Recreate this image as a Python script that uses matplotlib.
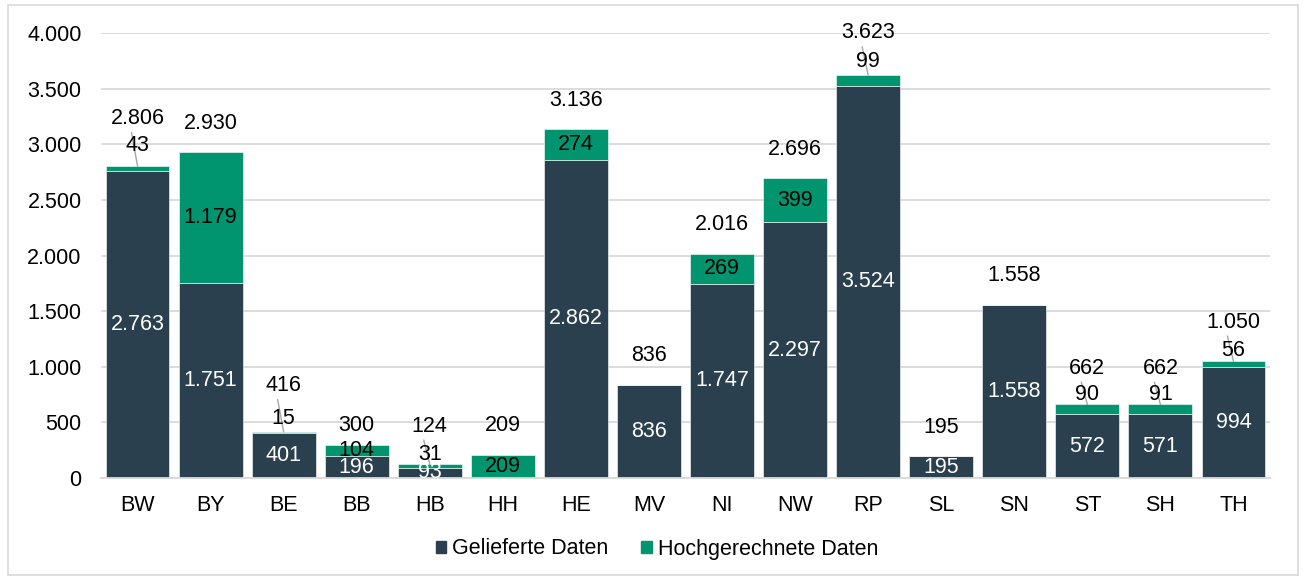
import matplotlib
matplotlib.use("Agg")
import matplotlib.pyplot as plt
from matplotlib.patches import Rectangle

plt.rcParams['font.family'] = ['Liberation Sans', 'DejaVu Sans']

categories = ["BW", "BY", "BE", "BB", "HB", "HH", "HE", "MV", "NI", "NW", "RP", "SL", "SN", "ST", "SH", "TH"]
geliefert = [2763, 1751, 401, 196, 93, 0, 2862, 836, 1747, 2297, 3524, 195, 1558, 572, 571, 994]
hochgerechnet = [43, 1179, 15, 104, 31, 209, 274, 0, 269, 399, 99, 0, 0, 90, 91, 56]
totals = [2806, 2930, 416, 300, 124, 209, 3136, 836, 2016, 2696, 3623, 195, 1558, 662, 662, 1050]
yticks = [0, 500, 1000, 1500, 2000, 2500, 3000, 3500, 4000]

# label layout (pixel offsets above bar top) for bars whose green part is too thin
small_offsets = {0: (20, 47), 2: (13, 46), 4: (10, 38), 10: (13, 42), 13: (10, 36), 14: (10, 36), 15: (11, 39)}
inside_only_offset = {3: 19}

C_DARK = "#2B404E"
C_GREEN = "#00956F"
FS = 15.5

def fmt(v):
    return f"{v:,}".replace(",", ".")

fig = plt.figure(figsize=(13.06, 5.79), dpi=100)
ax = fig.add_axes([101/1306, 1-478/579, (1270-101)/1306, (478-33)/579])

x = list(range(len(categories)))
w = 0.875
ax.bar(x, geliefert, w, color=C_DARK, edgecolor="white", linewidth=0.4, label="Gelieferte Daten", zorder=2)
ax.bar(x, hochgerechnet, w, bottom=geliefert, color=C_GREEN, edgecolor="white", linewidth=0.4,
       label="Hochgerechnete Daten", zorder=2)

ax.set_xlim(-0.5, len(categories) - 0.5)
ax.set_ylim(0, 4000)
ax.set_yticks(yticks)
ax.set_yticklabels([fmt(v) for v in yticks], fontsize=FS)
ax.set_xticks(x)
ax.set_xticklabels(categories, fontsize=FS)
ax.tick_params(axis='both', length=0)
ax.tick_params(axis='y', pad=14)
ax.tick_params(axis='x', pad=12)
ax.grid(axis='y', color="#D9D9D9", linewidth=1.3, zorder=0)
ax.set_axisbelow(True)
for s in ["top", "right", "left"]:
    ax.spines[s].set_visible(False)
ax.spines["bottom"].set_color("#D9D9D9")
ax.spines["bottom"].set_linewidth(1.3)

inv = ax.transData.inverted()
for i in x:
    g = geliefert[i]
    h = hochgerechnet[i]
    t = totals[i]
    if g > 0:
        ax.text(i, g / 2, fmt(g), ha="center", va="center", color="white", fontsize=FS, zorder=4)
    if i in small_offsets:
        so, to = small_offsets[i]
        ax.annotate(fmt(h), (i, t), xytext=(0, so), textcoords="offset pixels",
                    ha="center", va="center", fontsize=FS, color="black", zorder=4)
        ax.annotate(fmt(t), (i, t), xytext=(0, to), textcoords="offset pixels",
                    ha="center", va="center", fontsize=FS, color="black", zorder=4)
        p0 = ax.transData.transform((i, t))
        q1 = inv.transform((p0[0] - 6, p0[1] + to - 14))
        ax.plot([q1[0], i], [q1[1], t], color="#A6A6A6", linewidth=1, zorder=3)
    else:
        if h > 0:
            ax.text(i, g + h / 2, fmt(h), ha="center", va="center", color="black", fontsize=FS, zorder=4)
        off = inside_only_offset.get(i, 29)
        ax.annotate(fmt(t), (i, t), xytext=(0, off), textcoords="offset pixels",
                    ha="center", va="center", fontsize=FS, color="black", zorder=4)

handles = [Rectangle((0, 0), 1, 1, color=C_DARK), Rectangle((0, 0), 1, 1, color=C_GREEN)]
fig.legend(handles, ["Gelieferte Daten", "Hochgerechnete Daten"], loc="center",
           bbox_to_anchor=(0.503, 1-549/579), ncol=2, frameon=False, fontsize=FS,
           handlelength=0.5, handleheight=0.5, handletextpad=0.28, columnspacing=1.5)

fig.patches.append(Rectangle((8/1306, 4/579), 1290/1306, 570/579, transform=fig.transFigure,
                             fill=False, edgecolor="#D9D9D9", linewidth=1.2))

fig.savefig("out.png", dpi=100)
